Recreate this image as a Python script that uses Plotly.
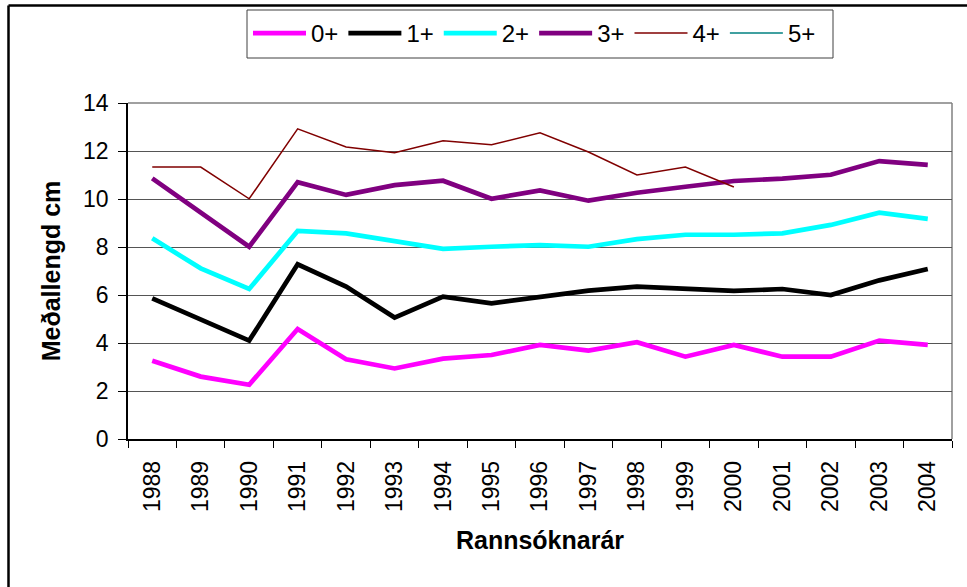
import plotly.graph_objects as go

years = [str(y) for y in range(1988, 2005)]
age0 = [3.26, 2.60, 2.26, 4.58, 3.32, 2.94, 3.35, 3.50, 3.92, 3.68, 4.03, 3.43, 3.92, 3.43, 3.43, 4.10, 3.92]
age1 = [5.86, 4.96, 4.10, 7.28, 6.35, 5.06, 5.93, 5.65, 5.93, 6.18, 6.35, 6.25, 6.17, 6.25, 6.00, 6.61, 7.08]
age2 = [8.36, 7.11, 6.25, 8.67, 8.57, 8.25, 7.92, 8.01, 8.08, 8.01, 8.33, 8.51, 8.51, 8.57, 8.92, 9.43, 9.17]
age3 = [10.86, 9.43, 8.01, 10.70, 10.17, 10.58, 10.76, 10.01, 10.36, 9.93, 10.26, 10.51, 10.75, 10.85, 11.01, 11.58, 11.42]
age4 = [11.33, 11.33, 10.01, 12.92, 12.17, 11.93, 12.43, 12.26, 12.76, 11.96, 11.00, 11.33, 10.50,
        None, None, None, None]
age5 = [None] * 17

series = [
    ("0+", age0, "#FF00FF", 4.7),
    ("1+", age1, "#000000", 4.7),
    ("2+", age2, "#00FFFF", 4.7),
    ("3+", age3, "#800080", 4.7),
    ("4+", age4, "#800000", 1.5),
    ("5+", age5, "#008080", 1.5),
]

FONT = "Liberation Sans, Arial, sans-serif"

fig = go.Figure()
for name, vals, color, w in series:
    fig.add_trace(go.Scatter(x=years, y=vals, name=name, mode="lines",
                             line=dict(color=color, width=w), connectgaps=False))

L, R, T, B = 128, 952, 103, 439
W, H = 967, 587
pw, ph = R - L, B - T

def px_x(x):
    return (x - L) / pw

def px_y(y):
    return (B - y) / ph

shapes = [
    # outer chart frame (top and left edges visible)
    dict(type="line", xref="paper", yref="paper", x0=px_x(8.5), x1=px_x(990),
         y0=px_y(5.5), y1=px_y(5.5), line=dict(color="black", width=2.5)),
    dict(type="line", xref="paper", yref="paper", x0=px_x(8.5), x1=px_x(8.5),
         y0=px_y(5.5), y1=px_y(620), line=dict(color="black", width=2.5)),
    # plot-area border top and right
    dict(type="line", xref="paper", yref="paper", x0=0, x1=1, y0=1, y1=1,
         line=dict(color="#808080", width=1.5), layer="below"),
    dict(type="line", xref="paper", yref="paper", x0=1, x1=1, y0=0, y1=1,
         line=dict(color="#808080", width=1.5), layer="below"),
    # legend box
    dict(type="rect", xref="paper", yref="paper", x0=px_x(247), x1=px_x(833),
         y0=px_y(58), y1=px_y(10), line=dict(color="#404040", width=1)),
]

fig.update_layout(
    width=W, height=H,
    margin=dict(l=L, r=W - R, t=T, b=H - B, autoexpand=False),
    paper_bgcolor="white", plot_bgcolor="white",
    font=dict(family=FONT, color="black", size=23),
    showlegend=True,
    legend=dict(orientation="h", x=px_x(248), y=px_y(11), xanchor="left", yanchor="top",
                font=dict(family=FONT, size=24, color="black"),
                itemwidth=53, borderwidth=0, bgcolor="rgba(0,0,0,0)",
                itemclick=False, itemdoubleclick=False, traceorder="normal"),
    shapes=shapes,
    xaxis=dict(type="category", range=[-0.5, 16.5], tickangle=-90, tickson="boundaries",
               ticks="outside", ticklen=7, tickwidth=1, tickcolor="black", showline=True,
               linecolor="black", linewidth=1.5, showgrid=False, ticklabelstandoff=11,
               tickfont=dict(family=FONT, size=23, color="black"),
               title=dict(text="<b>Rannsóknarár</b>", font=dict(family=FONT, size=25, color="black"),
                          standoff=20),
               automargin=False),
    yaxis=dict(range=[0, 14], dtick=2, tick0=0, ticks="outside", ticklen=8, tickwidth=1,
               tickcolor="black", showline=True, linecolor="black", linewidth=1.5,
               showgrid=True, gridcolor="#555555", gridwidth=1, zeroline=False,
               ticklabelstandoff=5,
               tickfont=dict(family=FONT, size=23, color="black"),
               title=dict(text="<b>Meðallengd cm</b>", font=dict(family=FONT, size=25, color="black"),
                          standoff=15),
               automargin=False),
)

fig.write_html("out.html", config={"displayModeBar": False},
               post_script="document.body.style.margin='0';")
